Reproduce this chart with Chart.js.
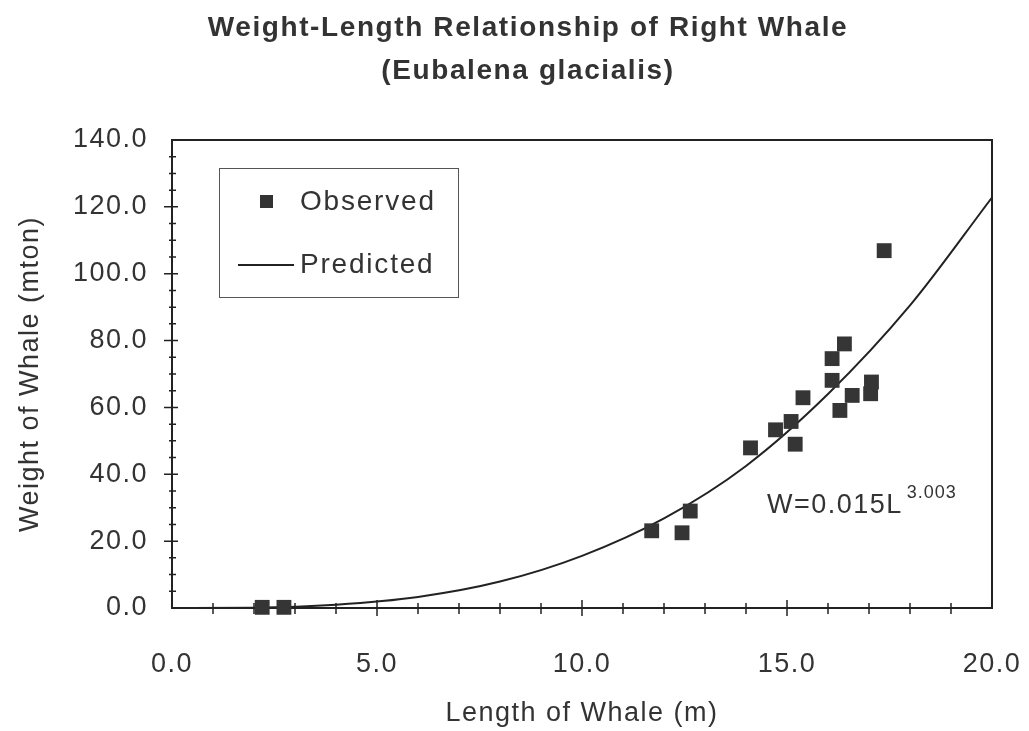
<!DOCTYPE html>
<html>
<head>
<meta charset="utf-8">
<script src="https://cdn.jsdelivr.net/npm/chart.js@4.4.1/dist/chart.umd.min.js"></script>
<style>
  html, body { margin: 0; padding: 0; background: #fff; }
  #wrap { width: 1029px; height: 731px; }
</style>
</head>
<body>
<div id="wrap"><canvas id="chart" width="1029" height="731"></canvas></div>
<script>
// Observed whales: length (m) and weight (mton)
const obsLength = [2.20, 2.73, 11.70, 12.44, 12.64, 14.11, 14.72, 15.10, 15.20, 15.39, 16.10, 16.10, 16.29, 16.40, 16.59, 17.04, 17.06, 17.37];
const obsWeight = [0.2, 0.2, 23.1, 22.5, 29.0, 47.9, 53.3, 55.8, 49.0, 62.9, 74.6, 68.1, 59.1, 79.0, 63.6, 64.1, 67.6, 106.9];

// Predicted curve W = 0.015 L^3.003
const predLength = [0, 2, 4, 6, 8, 10, 12, 14, 16, 18, 20];
const predWeight = [0, 0.1, 1.0, 3.3, 7.9, 15.6, 26.8, 42.5, 64.0, 90.5, 122.8];

// Axis tick labels
const xTickValues = [0, 5, 10, 15, 20];
const yTickValues = [0, 20, 40, 60, 80, 100, 120, 140];

const INK = '#333';
const FONT = '"Liberation Sans", Arial, sans-serif';

// wide-set lettering like the scanned original
function spacing(ctx, px) {
    if ('letterSpacing' in ctx) ctx.letterSpacing = (px === undefined ? 1.5 : px) + 'px';
}

const decorPlugin = {
    id: 'decor',
    beforeLayout(chart) { spacing(chart.ctx); },
    beforeDraw(chart) {
        const { ctx } = chart;
        ctx.save();
        ctx.fillStyle = '#fff';
        ctx.fillRect(0, 0, chart.width, chart.height);
        ctx.restore();
        spacing(ctx);

        // title
        ctx.save();
        spacing(ctx, 1.6);
        ctx.fillStyle = INK;
        ctx.font = 'bold 28px ' + FONT;
        ctx.textAlign = 'center';
        ctx.textBaseline = 'middle';
        ctx.fillText('Weight-Length Relationship of Right Whale', 528, 28);
        ctx.fillText('(Eubalena glacialis)', 528, 71);
        ctx.restore();
    },
    beforeDatasetsDraw(chart) {
        const { ctx, chartArea: a, scales } = chart;
        ctx.save();
        ctx.strokeStyle = '#222';
        ctx.lineWidth = 2;
        ctx.strokeRect(a.left, a.top, a.right - a.left, a.bottom - a.top);

        ctx.lineWidth = 1.5;
        ctx.beginPath();
        // x ticks every 1 m, crossing the axis
        for (let v = 1; v < 20; v++) {
            const x = scales.x.getPixelForValue(v);
            const major = v % 5 === 0;
            ctx.moveTo(x, a.bottom - (major ? 8 : 5));
            ctx.lineTo(x, a.bottom + (major ? 8 : 6));
        }
        // y ticks every 5 mton
        for (let v = 5; v < 140; v += 5) {
            const y = scales.y.getPixelForValue(v);
            const major = v % 20 === 0;
            ctx.moveTo(a.left - (major ? 8 : 3), y);
            ctx.lineTo(a.left + (major ? 6 : 4), y);
        }
        ctx.stroke();
        ctx.restore();
    },
    afterDraw(chart) {
        const { ctx } = chart;
        ctx.save();

        // legend box
        ctx.strokeStyle = '#555';
        ctx.lineWidth = 1;
        ctx.strokeRect(219.5, 168.5, 239, 129);

        ctx.fillStyle = INK;
        ctx.fillRect(260, 195, 13, 13);
        ctx.strokeStyle = '#222';
        ctx.lineWidth = 2;
        ctx.beginPath();
        ctx.moveTo(238, 265);
        ctx.lineTo(294, 265);
        ctx.stroke();

        spacing(ctx, 1.8);
        ctx.font = '28px ' + FONT;
        ctx.textAlign = 'left';
        ctx.textBaseline = 'middle';
        ctx.fillText('Observed', 300, 202);
        ctx.fillText('Predicted', 300, 265);

        // fitted equation
        spacing(ctx, 1.5);
        ctx.font = '27px ' + FONT;
        ctx.fillText('W=0.015L', 767, 506);
        const w = ctx.measureText('W=0.015L').width;
        ctx.font = '18px ' + FONT;
        spacing(ctx, 1);
        ctx.fillText('3.003', 767 + w + 4, 493);
        ctx.restore();
    }
};

const tickFont = { family: FONT, size: 27 };

new Chart(document.getElementById('chart'), {
    type: 'scatter',
    data: {
        datasets: [
            {
                label: 'Observed',
                data: obsLength.map((x, i) => ({ x, y: obsWeight[i] })),
                pointStyle: 'rect',
                pointRadius: 10.5,
                pointHoverRadius: 10.5,
                backgroundColor: '#353535',
                borderColor: '#353535',
                borderWidth: 0,
                clip: false
            },
            {
                label: 'Predicted',
                data: predLength.map((x, i) => ({ x, y: predWeight[i] })),
                showLine: true,
                borderColor: '#222',
                borderWidth: 2,
                pointRadius: 0,
                cubicInterpolationMode: 'monotone',
                clip: false
            }
        ]
    },
    options: {
        responsive: false,
        animation: false,
        events: [],
        layout: { padding: { left: 0, top: 140, right: 37, bottom: 0 } },
        plugins: {
            legend: { display: false },
            title: { display: false },
            tooltip: { enabled: false }
        },
        scales: {
            x: {
                type: 'linear',
                min: 0,
                max: 20,
                afterBuildTicks: s => { s.ticks = xTickValues.map(v => ({ value: v })); },
                afterFit: s => { s.height = 123; s.paddingLeft = 0; s.paddingRight = 0; },
                grid: { display: false, drawTicks: false },
                border: { display: false },
                ticks: {
                    color: INK,
                    font: tickFont,
                    padding: 40,
                    maxRotation: 0,
                    callback: v => Number(v).toFixed(1)
                },
                title: {
                    display: true,
                    text: 'Length of Whale (m)',
                    color: INK,
                    font: tickFont,
                    padding: { top: 0, bottom: 1 }
                }
            },
            y: {
                type: 'linear',
                min: 0,
                max: 140,
                afterBuildTicks: s => { s.ticks = yTickValues.map(v => ({ value: v })); },
                afterFit: s => { s.width = 172; s.paddingTop = 0; s.paddingBottom = 0; },
                grid: { display: false, drawTicks: false },
                border: { display: false },
                ticks: {
                    color: INK,
                    font: tickFont,
                    padding: 24,
                    callback: v => Number(v).toFixed(1)
                },
                title: {
                    display: true,
                    text: 'Weight of Whale (mton)',
                    color: INK,
                    font: tickFont,
                    padding: { top: 14, bottom: 0 }
                }
            }
        }
    },
    plugins: [decorPlugin]
});
</script>
</body>
</html>
